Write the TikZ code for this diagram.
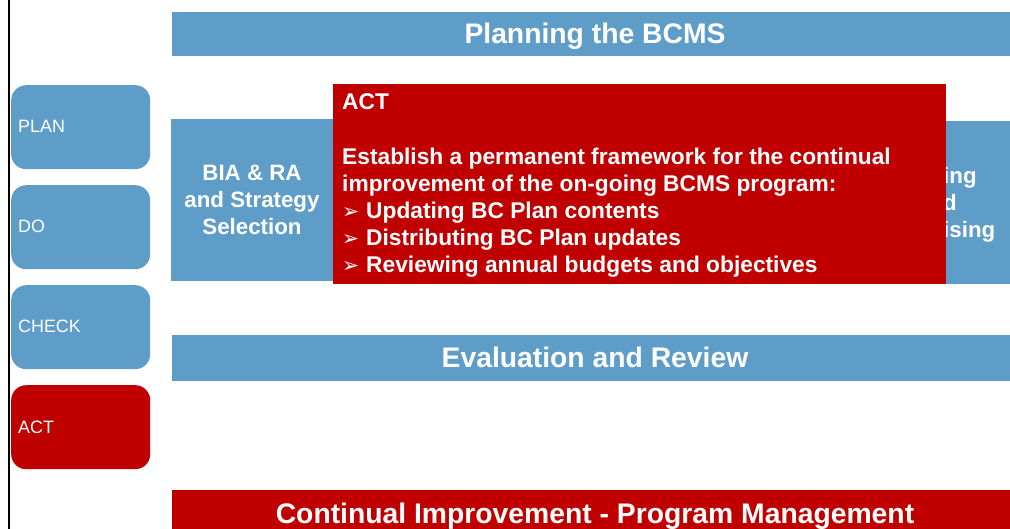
\documentclass[tikz,border=0pt]{standalone}
\usepackage{fontspec}
\setmainfont{Liberation Sans}
\newfontfamily\bulfont{DejaVu Sans}
\definecolor{bcblue}{HTML}{5F9DC9}
\definecolor{bcred}{HTML}{C00000}
\begin{document}
\begin{tikzpicture}[x=1pt,y=-1pt,
  barbox/.style={fill=#1,draw=none,inner sep=0pt,anchor=north west},
  bartext/.style={text=white,font=\bfseries\fontsize{28.3}{34}\selectfont,anchor=base,inner sep=0pt},
  midtext/.style={text=white,font=\bfseries\fontsize{22.3}{27}\selectfont,inner sep=0pt},
  acttext/.style={text=white,font=\bfseries\fontsize{22.75}{27}\selectfont,anchor=base west,inner sep=0pt},
  bultext/.style={text=white,font=\bulfont\fontsize{20.5}{27}\selectfont,anchor=base west,inner sep=0pt},
  phasebox/.style={fill=#1,draw=none,rounded corners=15pt,inner sep=0pt,anchor=north west,minimum width=139pt,minimum height=84pt},
  phasetext/.style={text=white,font=\fontsize{17.9}{21}\selectfont,anchor=base west,inner sep=0pt}]
\useasboundingbox (0,0) rectangle (1010,529);
% top bar
\node[barbox=bcblue,minimum width=838pt,minimum height=44pt] (plan) at (172,12) {};
\node[bartext] (plantxt) at (595,44) {Planning the BCMS};
% middle boxes
\node[barbox=bcblue,minimum width=162pt,minimum height=162pt] (bia) at (171,119) {};
\node[midtext,anchor=base] (bia1) at (252,181) {BIA \& RA};
\node[midtext,anchor=base] (bia2) at (252,208) {and Strategy};
\node[midtext,anchor=base] (bia3) at (252,235) {Selection};
\node[barbox=bcblue,minimum width=110pt,minimum height=163pt] (right) at (900,121) {};
\node[midtext,anchor=base west] (r1) at (943,184) {ing};
\node[midtext,anchor=base west] (r2) at (943,211) {d};
\node[midtext,anchor=base west] (r3) at (943,238) {ising};
% ACT overlay
\node[barbox=bcred,minimum width=613pt,minimum height=200pt] (act) at (333,84) {};
\node[acttext] (a0) at (342,110) {ACT};
\node[acttext] (a1) at (342,165) {Establish a permanent framework for the continual};
\node[acttext] (a2) at (342,192) {improvement of the on-going BCMS program:};
\node[bultext] (b1) at (342,219) {➢};
\node[acttext] (a3) at (366,219) {Updating BC Plan contents};
\node[bultext] (b2) at (342,246) {➢};
\node[acttext] (a4) at (366,246) {Distributing BC Plan updates};
\node[bultext] (b3) at (342,273) {➢};
\node[acttext] (a5) at (366,273) {Reviewing annual budgets and objectives};
% evaluation bar
\node[barbox=bcblue,minimum width=838pt,minimum height=46pt] (eval) at (172,335) {};
\node[bartext] (evaltxt) at (595,368) {Evaluation and Review};
% continual bar
\node[barbox=bcred,minimum width=838pt,minimum height=46pt] (cont) at (172,490) {};
\node[bartext] (conttxt) at (595,523) {Continual Improvement - Program Management};
% phase boxes
\node[phasebox=bcblue] (pplan) at (11,85) {};
\node[phasetext] (pplant) at (18,133) {PLAN};
\node[phasebox=bcblue] (pdo) at (11,185) {};
\node[phasetext] (pdot) at (18,233) {DO};
\node[phasebox=bcblue] (pcheck) at (11,285) {};
\node[phasetext] (pcheckt) at (18,333) {CHECK};
\node[phasebox=bcred] (pact) at (11,385) {};
\node[phasetext] (pactt) at (18,433) {ACT};
% left line
\coordinate (lt) at (9,0);
\coordinate (lb) at (9,529);
\draw[line width=2pt,black] (lt) -- (lb);
\end{tikzpicture}
\end{document}
